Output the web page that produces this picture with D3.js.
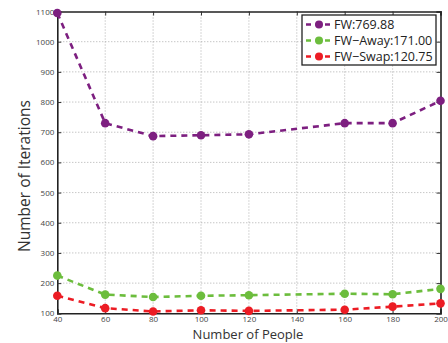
<!DOCTYPE html>
<html><head><meta charset="utf-8">
<script src="https://cdn.jsdelivr.net/npm/d3@7"></script>
<style>body{margin:0;background:#fff}svg{display:block}text{font-family:"Open Sans",sans-serif}</style>
</head><body><svg id="c" width="448" height="343"></svg>
<script>
const people = [40, 60, 80, 100, 120, 160, 180, 200];
const fw = [1095, 730, 687, 690, 693, 730, 730, 804];
const fwAway = [225, 162, 154, 158, 160, 165, 163, 181];
const fwSwap = [158, 117, 106, 110, 108, 112, 122, 133];
const xTicks = [40, 60, 80, 100, 120, 140, 160, 180, 200];
const yTicks = [100, 200, 300, 400, 500, 600, 700, 800, 900, 1000, 1100];
const seriesNames = ["FW:769.88", "FW\u2212Away:171.00", "FW\u2212Swap:120.75"];
const colors = ["#7d1f80", "#6cbd3d", "#ec1c24"];

const svg = d3.select("#c");
const L = 57.3, R = 440.5, T = 11.5, B = 313.3;
const x = d3.scaleLinear().domain([40, 200]).range([L, R]);
const y = d3.scaleLinear().domain([100, 1100]).range([B, T]);

// grid
const g = svg.append("g");
g.selectAll(".gy").data(yTicks.slice(1, -1)).enter().append("line")
  .attr("x1", L).attr("x2", R).attr("y1", d => y(d)).attr("y2", d => y(d))
  .attr("stroke", "#999").attr("stroke-width", 0.8).attr("stroke-dasharray", "1,2");
g.selectAll(".gx").data(xTicks.slice(1, -1)).enter().append("line")
  .attr("y1", T).attr("y2", B).attr("x1", d => x(d)).attr("x2", d => x(d))
  .attr("stroke", "#999").attr("stroke-width", 0.8).attr("stroke-dasharray", "1,2");

// axes
const fmt = d3.format("d");
svg.append("g").attr("transform", `translate(0,${B})`)
  .call(d3.axisBottom(x).tickValues(xTicks).tickSize(-4).tickPadding(3).tickFormat(fmt));
svg.append("g").attr("transform", `translate(${L},0)`)
  .call(d3.axisLeft(y).tickValues(yTicks).tickSize(-4).tickPadding(3).tickFormat(fmt));
svg.append("g").attr("transform", `translate(0,${T})`)
  .call(d3.axisTop(x).tickValues(xTicks).tickSize(-4).tickFormat(""));
svg.append("g").attr("transform", `translate(${R},0)`)
  .call(d3.axisRight(y).tickValues(yTicks).tickSize(-4).tickFormat(""));
svg.selectAll(".domain").attr("stroke", "#222").attr("stroke-width", 1.6);
svg.selectAll(".tick line").attr("stroke", "#333");
svg.selectAll(".tick text").attr("font-size", 8).attr("fill", "#444").attr("font-family", "'Open Sans',sans-serif");

// lines
const series = [fw, fwAway, fwSwap];
const line = d3.line().x((d, i) => x(people[i])).y(d => y(d));
series.forEach((s, k) => {
  svg.append("path").datum(s).attr("d", line).attr("fill", "none")
    .attr("stroke", colors[k]).attr("stroke-width", 2.6).attr("stroke-dasharray", "6,5");
  svg.selectAll(".p" + k).data(s).enter().append("circle")
    .attr("cx", (d, i) => x(people[i])).attr("cy", d => y(d)).attr("r", 4.3)
    .attr("fill", colors[k]);
});

// labels
svg.append("text").attr("x", 248).attr("y", 338.5).attr("text-anchor", "middle")
  .attr("font-size", 13).attr("fill", "#333").text("Number of People");
svg.append("text").attr("transform", `translate(30,176) rotate(-90)`)
  .attr("text-anchor", "middle").attr("font-size", 15.5).attr("fill", "#333").text("Number of Iterations");

// legend
const lg = svg.append("g");
lg.append("rect").attr("x", 302).attr("y", 15).attr("width", 134).attr("height", 50)
  .attr("fill", "#fff").attr("stroke", "#222").attr("stroke-width", 1.3);
seriesNames.forEach((n, k) => {
  const yy = 24.5 + k * 16;
  lg.append("line").attr("x1", 306).attr("x2", 332).attr("y1", yy).attr("y2", yy)
    .attr("stroke", colors[k]).attr("stroke-width", 2.4).attr("stroke-dasharray", "5,4.5");
  lg.append("circle").attr("cx", 319).attr("cy", yy).attr("r", 4).attr("fill", colors[k]);
  lg.append("text").attr("x", 334).attr("y", yy + 4.5).attr("font-size", 12.5).attr("fill", "#222").text(n);
});
</script></body></html>
